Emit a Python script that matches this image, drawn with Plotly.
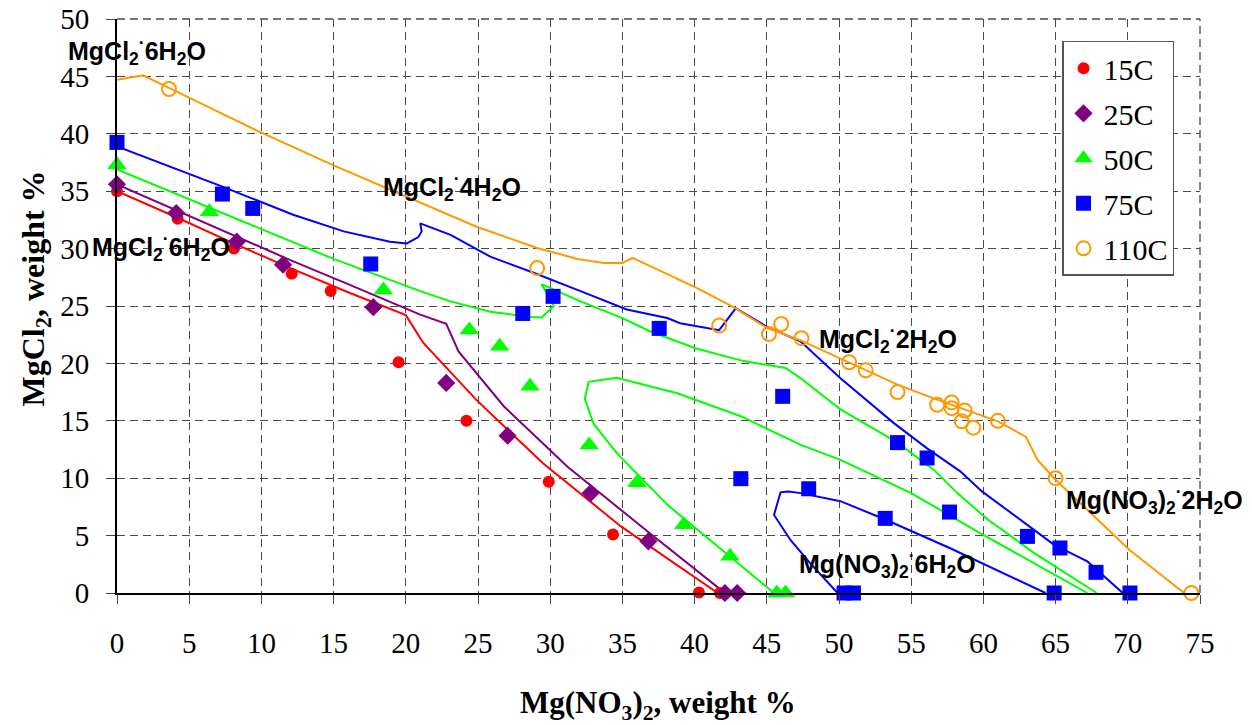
import plotly.graph_objects as go

# ---------------- data (weight %) ----------------
# 15C
x15_pts = [0, 4.2, 8.1, 12.1, 14.8, 19.5, 24.2, 29.9, 34.35, 40.3, 41.75]
y15_pts = [35.0, 32.6, 30.0, 27.8, 26.3, 20.1, 15.0, 9.7, 5.1, 0.05, 0.0]
x15_line = [0, 4, 8, 12, 16, 20, 21.2, 24.9, 29.5, 34.9, 37.2, 41.6]
y15_line = [35.0, 32.8, 30.5, 28.3, 26.2, 24.2, 21.8, 16.8, 11.3, 5.8, 3.8, 0.0]

# 25C
x25_pts = [0, 4.1, 8.3, 11.5, 17.75, 22.8, 27.05, 32.8, 36.8, 42.1, 42.95]
y25_pts = [35.6, 33.1, 30.6, 28.6, 24.9, 18.3, 13.7, 8.7, 4.5, 0.0, 0.0]
x25_line = [0, 4, 8, 12, 16, 21, 22.8, 23.65, 26.8, 31.2, 36.9, 42.0]
y25_line = [35.6, 33.4, 31.2, 29.0, 26.9, 24.25, 23.45, 21.05, 16.25, 11.0, 5.2, 0.1]

# 50C
x50_pts = [0, 6.4, 18.45, 24.4, 26.5, 28.6, 32.7, 36.0, 39.25, 42.45, 45.7, 46.3]
y50_pts = [37.3, 33.2, 26.4, 22.9, 21.5, 18.0, 12.9, 9.6, 5.95, 3.2, 0.0, 0.0]
x50_line_a = [0, 5, 10, 15, 21, 23.1, 25.85, 28.6, 29.4, 30.25, 29.4, 32.1, 35.0, 36.9,
              40.1, 43.4, 46.3, 47.35, 50.1, 54.05, 56.6, 58.2, 60.3, 63.5, 67.85]
y50_line_a = [36.9, 34.3, 31.7, 29.1, 26.3, 25.4, 24.5, 24.05, 24.0, 25.0, 26.9, 25.4, 23.95, 22.8,
              21.3, 20.2, 19.6, 18.7, 16.0, 13.1, 10.7, 8.7, 6.4, 3.5, 0.0]
x50_line_b = [45.5, 43.0, 38.1, 34.6, 33.0, 32.4, 32.66, 34.6, 38.8, 43.2, 47.35, 50.1, 55.0, 59.8, 67.2]
y50_line_b = [0.0, 2.6, 7.7, 12.2, 14.75, 16.9, 18.4, 18.75, 17.4, 15.4, 12.9, 11.6, 8.7, 5.2, 0.0]

# 75C
x75_pts = [0, 7.3, 9.4, 17.57, 28.1, 30.2, 37.55, 46.1, 43.2, 47.9, 54.05, 56.1, 53.2,
           57.65, 63.05, 65.3, 67.8, 50.35, 51.0, 64.9, 70.15]
y75_pts = [39.25, 34.75, 33.5, 28.66, 24.35, 25.84, 23.05, 17.13, 9.96, 9.08, 13.1, 11.76, 6.5,
           7.05, 4.93, 3.92, 1.8, 0.0, 0.0, 0.0, 0.0]
x75_line_a = [0, 7.3, 12.2, 15.7, 18.9, 20.07, 20.87, 21.1, 21.0, 23.1, 25.85, 28.85, 32.1, 35.3,
              38.1, 39.0, 41.7, 42.85, 45.0, 47.35, 50.1, 53.8, 56.1, 58.4, 59.9, 64.9, 67.2, 69.65]
y75_line_a = [38.9, 35.4, 32.95, 31.5, 30.6, 30.45, 31.0, 31.5, 32.2, 31.2, 29.3, 27.9, 26.3, 24.7,
              23.95, 23.5, 22.9, 24.8, 23.2, 21.9, 18.7, 14.8, 12.6, 10.6, 8.85, 4.2, 2.75, 0.0]
x75_line_b = [49.9, 48.0, 46.65, 45.5, 45.95, 46.5, 47.35, 50.1, 53.2, 57.7, 64.3]
y75_line_b = [0.0, 2.6, 4.6, 6.8, 8.77, 8.85, 8.7, 8.0, 6.4, 3.9, 0.0]

# 110C
x110_pts = [3.6, 29.1, 41.7, 45.15, 46.0, 47.4, 50.7, 51.85, 54.05, 56.8, 57.8, 57.8,
            58.7, 58.5, 59.3, 61.0, 65.0, 74.4]
y110_pts = [43.9, 28.3, 23.3, 22.56, 23.43, 22.2, 20.1, 19.4, 17.5, 16.4, 16.6, 16.1,
            15.9, 14.95, 14.4, 15.0, 10.0, 0.0]
x110_line = [0, 1.8, 3.6, 10, 15, 21, 24.9, 29.1, 31.9, 33.7, 35.0, 35.7, 40.1, 42.7, 45.0,
             47.35, 50.7, 54.05, 56.8, 61.0, 62.95, 63.75, 65.0, 70.1, 73.9]
y110_line = [44.7, 45.1, 44.0, 40.1, 37.25, 34.0, 31.9, 30.05, 29.1, 28.75, 28.75, 29.2, 26.6, 24.9, 23.1,
             22.0, 20.1, 18.15, 16.84, 14.95, 13.6, 11.6, 9.87, 3.77, 0.0]

x_ticks = list(range(0, 76, 5))
y_ticks = list(range(0, 51, 5))

RED, PURPLE, GREEN, BLUE, ORANGE = "#FF0000", "#800080", "#00FF00", "#0000FF", "#FF9900"
GRID = "#4a4a4a"

fig = go.Figure()

def add_line(x, y, color):
    fig.add_trace(go.Scatter(x=x, y=y, mode="lines", line=dict(color=color, width=2),
                             showlegend=False, hoverinfo="skip"))

add_line(x15_line, y15_line, RED)
add_line(x25_line, y25_line, PURPLE)
add_line(x50_line_a, y50_line_a, GREEN)
add_line(x50_line_b, y50_line_b, GREEN)
add_line(x75_line_a, y75_line_a, BLUE)
add_line(x75_line_b, y75_line_b, BLUE)
add_line(x110_line, y110_line, ORANGE)

def add_pts(x, y, name, color, symbol, size, group, open_=False):
    if open_:
        marker = dict(symbol=symbol, size=size, color=color,
                      line=dict(color=color, width=2))
    else:
        marker = dict(symbol=symbol, size=size, color=color, line=dict(width=0))
    fig.add_trace(go.Scatter(x=x, y=y, mode="markers", name=name, marker=marker,
                             cliponaxis=False, legendgroup=group))

add_pts(x15_pts, y15_pts, "15C", RED, "circle", 12, "g1")
add_pts(x25_pts, y25_pts, "25C", PURPLE, "diamond", 14, "g2")
add_pts(x50_pts, y50_pts, "50C", GREEN, "triangle-up", 17, "g3")
add_pts(x75_pts, y75_pts, "75C", BLUE, "square", 15, "g4")
add_pts(x110_pts, y110_pts, "110C", ORANGE, "circle-open", 14, "g5", open_=True)

label_font = dict(family="Liberation Sans, Arial, sans-serif", size=25, color="black")
DOT = "<sup>·</sup>"
labels = [
    (0, 47.2, -51, "<b>MgCl<sub>2</sub>" + DOT + "6H<sub>2</sub>O</b>"),
    (0, 30.1, -27, "<b>MgCl<sub>2</sub>" + DOT + "6H<sub>2</sub>O</b>"),
    (18.3, 35.4, 0, "<b>MgCl<sub>2</sub>" + DOT + "4H<sub>2</sub>O</b>"),
    (48.5, 22.1, 0, "<b>MgCl<sub>2</sub>" + DOT + "2H<sub>2</sub>O</b>"),
    (65.6, 8.1, 0, "<b>Mg(NO<sub>3</sub>)<sub>2</sub>" + DOT + "2H<sub>2</sub>O</b>"),
    (47.1, 2.5, 0, "<b>Mg(NO<sub>3</sub>)<sub>2</sub>" + DOT + "6H<sub>2</sub>O</b>"),
]
for x, y, xs, t in labels:
    fig.add_annotation(x=x, y=y, xref="x", yref="y", text=t, showarrow=False,
                       xanchor="left", yanchor="middle", xshift=xs, font=label_font)

serif = "Liberation Serif, Times New Roman, serif"
fig.add_annotation(text="<b>Mg(NO<sub>3</sub>)<sub>2</sub>, weight %</b>", xref="paper", yref="paper",
                   x=0.4996, y=-0.195, showarrow=False, xanchor="center", yanchor="middle",
                   font=dict(family=serif, size=31, color="black"))
fig.add_annotation(text="<b>MgCl<sub>2</sub>, weight %</b>", xref="paper", yref="paper",
                   x=-0.0755, y=0.531, showarrow=False, xanchor="center", yanchor="middle",
                   textangle=-90, font=dict(family=serif, size=32, color="black"))

# dashed frame on top and right edges (as in the reference)
fig.add_shape(type="line", xref="paper", yref="paper", x0=0, x1=1, y0=1, y1=1,
              line=dict(color=GRID, width=1.3, dash="8px,5px"), layer="below")
fig.add_shape(type="line", xref="paper", yref="paper", x0=1, x1=1, y0=0, y1=1,
              line=dict(color=GRID, width=1.3, dash="8px,5px"), layer="below")

axis_common = dict(
    showgrid=True, gridcolor=GRID, gridwidth=1.3, griddash="8px,5px",
    showline=True, linecolor="black", linewidth=2, zeroline=False,
    ticks="outside", ticklen=9, tickcolor="#444", tickwidth=1, automargin=False,
    ticklabeloverflow="allow",
    tickfont=dict(family=serif, size=29, color="black"),
)
fig.update_xaxes(range=[0, 75], tickvals=x_ticks, ticklabelstandoff=14, **axis_common)
fig.update_yaxes(range=[0, 50], tickvals=y_ticks, ticklabelstandoff=11, **axis_common)

# the page body adds an 8px offset, so the margins are shifted to compensate
fig.update_layout(
    width=1252, height=725,
    margin=dict(l=109, r=60, t=11, b=140, autoexpand=False),
    paper_bgcolor="white", plot_bgcolor="white",
    showlegend=True,
    legend=dict(x=0.8726, y=0.962, xanchor="left", yanchor="top",
                bgcolor="white", bordercolor="#555", borderwidth=1.5,
                font=dict(family=serif, size=30, color="black"),
                traceorder="grouped", tracegroupgap=3),
)

fig.write_html("out.html")
